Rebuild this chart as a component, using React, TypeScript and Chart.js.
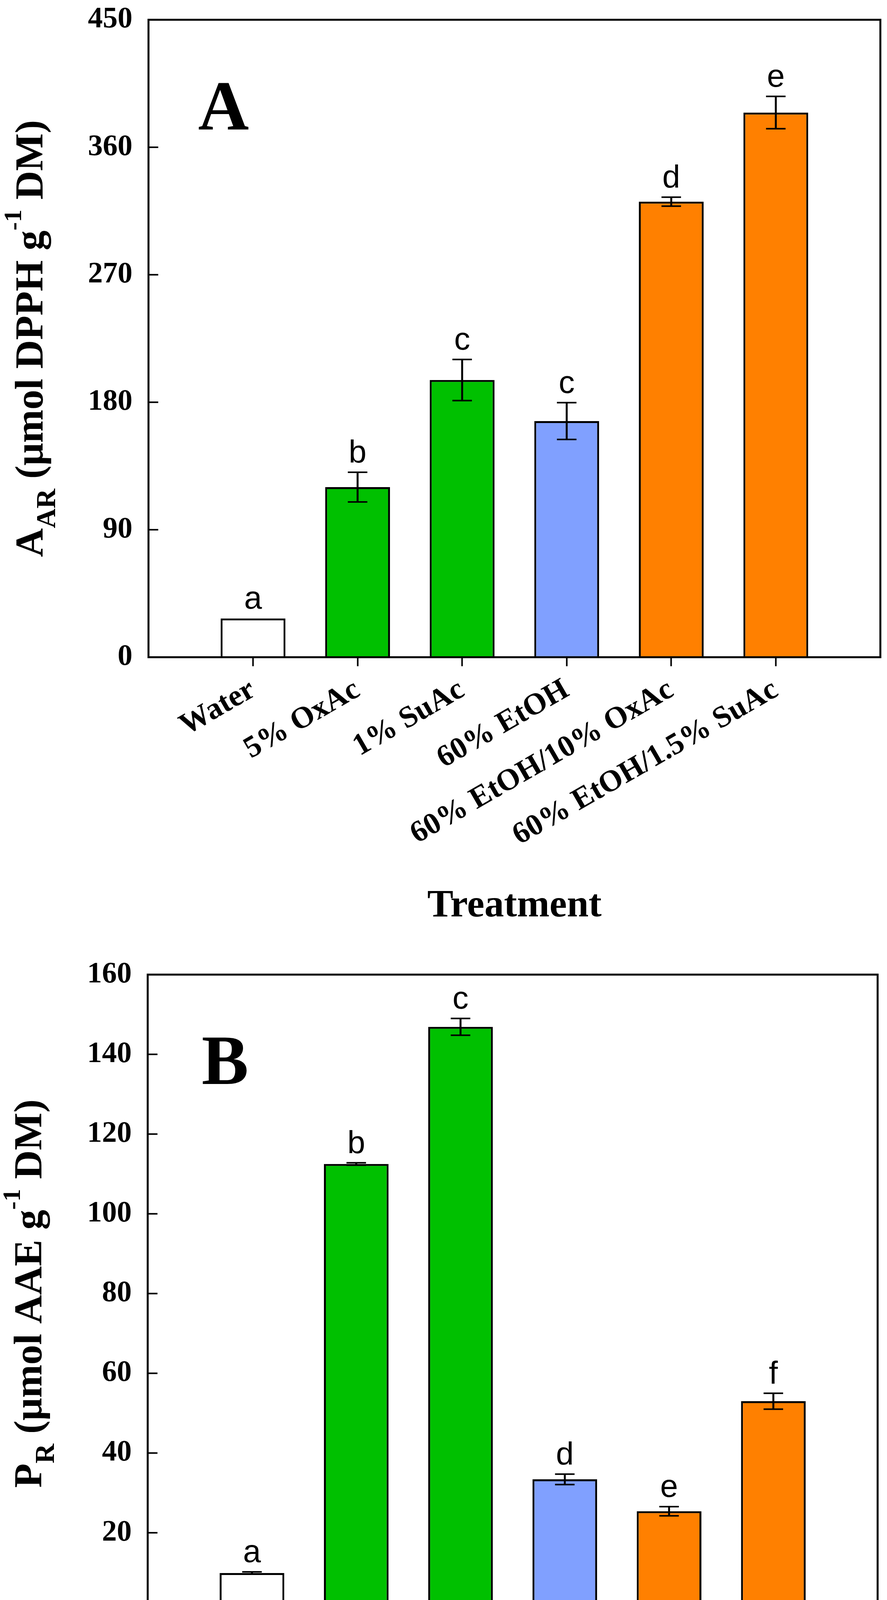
import React, { useEffect, useRef } from "react";
import { Chart, registerables, ChartConfiguration, Plugin } from "chart.js";

Chart.register(...registerables);

const SERIF = "'Liberation Serif', 'Times New Roman', serif";
const SANS = "'Liberation Sans', Arial, sans-serif";

// treatments on the x axis
const CATEGORIES = [
  "Water",
  "5% OxAc",
  "1% SuAc",
  "60% EtOH",
  "60% EtOH/10% OxAc",
  "60% EtOH/1.5% SuAc",
];
const BAR_COLORS = ["#FFFFFF", "#00C000", "#00C000", "#80A0FF", "#FF8000", "#FF8000"];

// panel A: antiradical activity
const A_VALUES = [27.4, 120.1, 195.7, 166.7, 321.6, 384.5];
const A_ERRORS = [0, 10.5, 14.5, 13, 3.2, 11.4];
const A_LETTERS = ["a", "b", "c", "c", "d", "e"];
const A_TICKS = [0, 90, 180, 270, 360, 450];

// panel B: reducing power
const B_VALUES = [9.9, 112.5, 146.9, 33.4, 25.4, 53.0];
const B_ERRORS = [0.3, 0.3, 2.1, 1.3, 1.15, 2.0];
const B_LETTERS = ["a", "b", "c", "d", "e", "f"];
const B_TICKS = [0, 20, 40, 60, 80, 100, 120, 140, 160];

const W = 2270;
const H = 2411;

interface Seg {
  text: string;
  size: number;
  shift: number;
}

interface PanelProps {
  panel: string;
  panelDx: number;
  values: number[];
  errors: number[];
  letters: string[];
  ticks: number[];
  title: Seg[];
  titleX: number;
  area: { top: number; bottom: number; left: number; right: number };
  treatmentPad: number;
}

// rotated y title with sub/superscripts
function drawVerticalTitle(ctx: CanvasRenderingContext2D, segs: Seg[], x: number, yc: number) {
  ctx.save();
  let total = 0;
  const widths = segs.map((s) => {
    ctx.font = `bold ${s.size}px ${SERIF}`;
    const w = ctx.measureText(s.text).width;
    total += w;
    return w;
  });
  ctx.translate(x, yc);
  ctx.rotate(-Math.PI / 2);
  ctx.textAlign = "left";
  ctx.textBaseline = "alphabetic";
  ctx.fillStyle = "#000";
  let cur = -total / 2;
  segs.forEach((s, i) => {
    ctx.font = `bold ${s.size}px ${SERIF}`;
    ctx.fillText(s.text, cur, s.shift);
    cur += widths[i];
  });
  ctx.restore();
}

function Panel(props: PanelProps) {
  const chartRef = useRef<HTMLCanvasElement | null>(null);

  useEffect(() => {
    if (!chartRef.current) return;
    const { values, errors, letters, ticks, area } = props;

    const labels = ["", ...CATEGORIES, ""];
    const data = [null, ...values, null];
    const colors = ["#FFFFFF", ...BAR_COLORS, "#FFFFFF"];

    const decor: Plugin<"bar"> = {
      id: "decor",
      afterDatasetsDraw(chart) {
        const { ctx, chartArea: a } = chart;
        const xs = chart.scales.x;
        const ys = chart.scales.y;
        ctx.save();
        ctx.strokeStyle = "#000";
        ctx.fillStyle = "#000";

        // frame
        ctx.lineWidth = 5;
        ctx.strokeRect(a.left, a.top, a.right - a.left, a.bottom - a.top);

        // inward y ticks
        ctx.lineWidth = 4;
        ticks.forEach((v) => {
          const y = ys.getPixelForValue(v);
          ctx.beginPath();
          ctx.moveTo(a.left, y);
          ctx.lineTo(a.left + 25, y);
          ctx.stroke();
        });

        // error bars + letters
        values.forEach((v, i) => {
          const x = xs.getPixelForValue(i + 1);
          const e = errors[i];
          const yt = ys.getPixelForValue(v + e);
          if (e > 0) {
            const yb = ys.getPixelForValue(v - e);
            ctx.lineWidth = 5;
            ctx.beginPath();
            ctx.moveTo(x, yt);
            ctx.lineTo(x, yb);
            ctx.stroke();
            ctx.lineWidth = 4;
            ctx.beginPath();
            ctx.moveTo(x - 25, yt);
            ctx.lineTo(x + 25, yt);
            ctx.moveTo(x - 25, yb);
            ctx.lineTo(x + 25, yb);
            ctx.stroke();
          }
          ctx.font = `82px ${SANS}`;
          ctx.textAlign = "center";
          ctx.textBaseline = "alphabetic";
          ctx.fillText(letters[i], x, yt - 25);
        });

        // panel letter
        ctx.font = `bold 180px ${SERIF}`;
        ctx.textAlign = "left";
        ctx.fillText(props.panel, a.left + props.panelDx, a.top + 280);
        ctx.restore();

        drawVerticalTitle(ctx, props.title, props.titleX, (a.top + a.bottom) / 2);
      },
    };

    const config: ChartConfiguration<"bar", (number | null)[], string> = {
      type: "bar",
      data: {
        labels,
        datasets: [
          {
            data,
            backgroundColor: colors,
            borderColor: "#000",
            borderWidth: 5,
            barPercentage: 0.62,
            categoryPercentage: 1,
          },
        ],
      },
      options: {
        responsive: false,
        animation: false,
        layout: {
          padding: { top: area.top, right: W - area.right, bottom: 0, left: 0 },
        },
        plugins: {
          legend: { display: false },
          tooltip: { enabled: false },
        },
        scales: {
          x: {
            type: "category",
            offset: false,
            grid: {
              display: true,
              offset: false,
              drawOnChartArea: false,
              drawTicks: true,
              tickLength: 23,
              tickWidth: 4,
              tickColor: (c: any) =>
                c.index === 0 || c.index === labels.length - 1 ? "rgba(0,0,0,0)" : "#000",
            },
            border: { display: false },
            ticks: {
              autoSkip: false,
              minRotation: 30,
              maxRotation: 30,
              padding: 15,
              color: "#000",
              font: { family: SERIF, size: 78, weight: "bold" },
            },
            title: {
              display: true,
              text: "Treatment",
              color: "#000",
              font: { family: SERIF, size: 100, weight: "bold", lineHeight: 1 },
              padding: { top: 0, bottom: props.treatmentPad },
            },
            afterFit: (s: any) => {
              s.height = H - area.bottom;
              s.paddingLeft = 0;
              s.paddingRight = 0;
            },
          },
          y: {
            min: 0,
            max: ticks[ticks.length - 1],
            afterBuildTicks: (s: any) => {
              s.ticks = ticks.map((v) => ({ value: v }));
            },
            grid: { display: false, drawTicks: false },
            border: { display: false },
            ticks: {
              padding: 41,
              color: "#000",
              font: { family: SERIF, size: 76, weight: "bold" },
            },
            afterFit: (s: any) => {
              s.width = area.left;
              s.paddingTop = 0;
              s.paddingBottom = 0;
            },
          },
        },
      },
      plugins: [decor],
    };

    const chart = new Chart(chartRef.current, config);
    return () => {
      chart.destroy();
    };
  }, []);

  return (
    <canvas
      ref={chartRef}
      width={W}
      height={H}
      style={{ display: "block", width: W, height: H }}
    />
  );
}

export default function App() {
  useEffect(() => {
    document.body.style.margin = "0";
  }, []);

  return (
    <div style={{ width: W, background: "#fff" }}>
      <Panel
        panel="A"
        panelDx={127}
        values={A_VALUES}
        errors={A_ERRORS}
        letters={A_LETTERS}
        ticks={A_TICKS}
        title={[
          { text: "A", size: 102, shift: 0 },
          { text: "AR", size: 70, shift: 32 },
          { text: " (μmol DPPH g", size: 102, shift: 0 },
          { text: "-1", size: 64, shift: -55 },
          { text: " DM)", size: 102, shift: 0 },
        ]}
        titleX={109}
        area={{ top: 50.6, bottom: 1682.5, left: 380, right: 2253 }}
        treatmentPad={41}
      />
      <Panel
        panel="B"
        panelDx={138}
        values={B_VALUES}
        errors={B_ERRORS}
        letters={B_LETTERS}
        ticks={B_TICKS}
        title={[
          { text: "P", size: 102, shift: 0 },
          { text: "R", size: 70, shift: 32 },
          { text: " (μmol AAE g", size: 102, shift: 0 },
          { text: "-1", size: 64, shift: -55 },
          { text: " DM)", size: 102, shift: 0 },
        ]}
        titleX={106}
        area={{ top: 84, bottom: 1717, left: 378, right: 2246 }}
        treatmentPad={7}
      />
    </div>
  );
}
